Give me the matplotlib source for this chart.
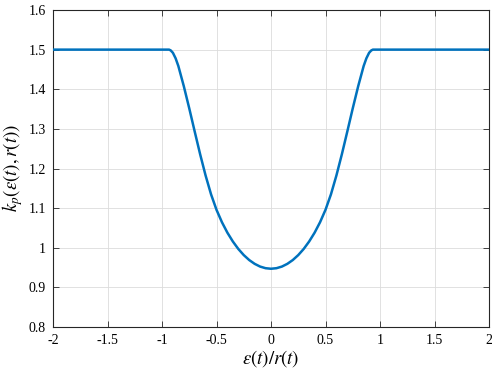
import matplotlib
matplotlib.use("Agg")
import matplotlib.pyplot as plt

x_vals = [-2.0, -1.5, -1.0, -0.95, -0.935, -0.92, -0.9, -0.875, -0.85, -0.8, -0.75, -0.7,
          -0.65, -0.6, -0.55, -0.5, -0.45, -0.4, -0.35, -0.3, -0.25, -0.2, -0.15, -0.1,
          -0.05, 0.0, 0.05, 0.1, 0.15, 0.2, 0.25, 0.3, 0.35, 0.4, 0.45, 0.5,
          0.55, 0.6, 0.65, 0.7, 0.75, 0.8, 0.85, 0.875, 0.9, 0.92, 0.935, 0.95, 1.0, 1.5, 2.0]
kp_vals = [1.5, 1.5, 1.5, 1.5, 1.5, 1.498, 1.492, 1.478, 1.4586, 1.4078, 1.3518, 1.2933,
           1.2358, 1.1823, 1.1348, 1.0958, 1.0644, 1.0380, 1.0158, 0.9970, 0.9815, 0.9690, 0.9594, 0.9525,
           0.9484, 0.947, 0.9484, 0.9525, 0.9594, 0.9690, 0.9815, 0.9970, 1.0158, 1.0380, 1.0644, 1.0958,
           1.1348, 1.1823, 1.2358, 1.2933, 1.3518, 1.4078, 1.4586, 1.478, 1.492, 1.498, 1.5, 1.5, 1.5, 1.5, 1.5]
x_ticks = [-2, -1.5, -1, -0.5, 0, 0.5, 1, 1.5, 2]
x_tick_labels = ["-2", "-1.5", "-1", "-0.5", "0", "0.5", "1", "1.5", "2"]
y_ticks = [0.8, 0.9, 1.0, 1.1, 1.2, 1.3, 1.4, 1.5, 1.6]
y_tick_labels = ["0.8", "0.9", "1", "1.1", "1.2", "1.3", "1.4", "1.5", "1.6"]

plt.rcParams['font.family'] = ['Liberation Serif', 'DejaVu Serif']
plt.rcParams['mathtext.fontset'] = 'stix'

fig = plt.figure(figsize=(4.92, 3.72), dpi=100)
ax = fig.add_axes([53/492, 45/372, 436/492, 317/372])

ax.plot(x_vals, kp_vals, color="#0072BD", linewidth=1.8, zorder=3,
        solid_joinstyle="round", solid_capstyle="round")

ax.set_xlim(-2, 2)
ax.set_ylim(0.8, 1.6)
ax.set_xticks(x_ticks)
ax.set_xticklabels(x_tick_labels)
ax.set_yticks(y_ticks)
ax.set_yticklabels(y_tick_labels)
ax.grid(True, color="#dcdcdc", linewidth=0.6)
ax.set_axisbelow(True)
ax.tick_params(direction="in", top=True, right=True, labelsize=10, color="#262626",
               length=4, width=0.6, pad=5)
for s in ax.spines.values():
    s.set_color("#262626")
    s.set_linewidth(0.8)

ax.set_xlabel(r"$\epsilon(t)/r(t)$", fontsize=13.5, labelpad=1)
ax.set_ylabel(r"$k_p(\epsilon(t), r(t))$", fontsize=13.5, labelpad=3)

fig.savefig("out.png", dpi=100)
